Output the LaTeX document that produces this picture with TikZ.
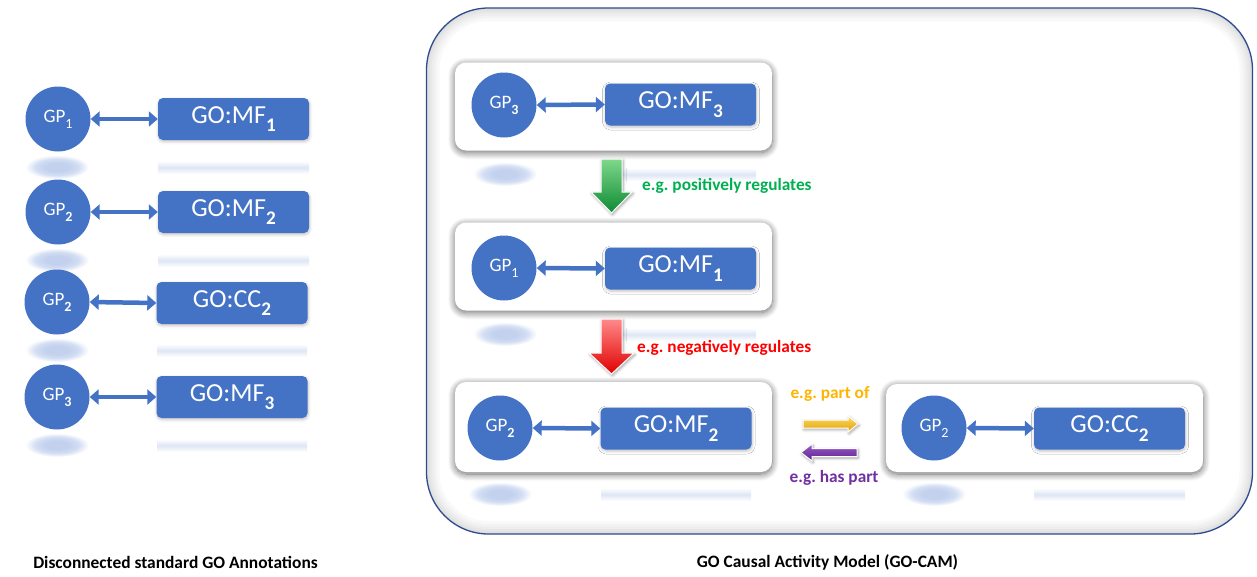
\documentclass[tikz,border=0pt]{standalone}
\usepackage{fontspec}
\usepackage{graphicx}
\setmainfont{Carlito}
\frenchspacing
\usetikzlibrary{arrows.meta,shadows.blur,fadings}
\definecolor{goblue}{HTML}{4472C4}
\definecolor{framecol}{HTML}{2F4B8F}
\definecolor{egreen}{HTML}{00B050}
\definecolor{ered}{HTML}{FF0000}
\definecolor{egold}{HTML}{FFB400}
\definecolor{epurple}{HTML}{7030A0}
\definecolor{grnA}{HTML}{7ED88A}
\definecolor{grnB}{HTML}{0E8A34}
\definecolor{redA}{HTML}{FF8A8A}
\definecolor{redB}{HTML}{E00000}
\definecolor{golA}{HTML}{FFD966}
\definecolor{golB}{HTML}{E0A000}
\definecolor{purA}{HTML}{9A5CC6}
\definecolor{purB}{HTML}{5E2090}
\definecolor{blobA}{HTML}{C3D1EE}
\definecolor{blobB}{HTML}{D3DEF3}
\pgfdeclareradialshading{reflblob}{\pgfpoint{0bp}{0bp}}{%
  color(0bp)=(blobA); color(9bp)=(blobA); color(17bp)=(blobB); color(25bp)=(white); color(50bp)=(white)}
\newcommand\gsub[1]{\raisebox{-0.32em}{\scalebox{0.74}{#1}}}
\newcommand\goreflect[4]{%
  \shade[shading=reflblob] (#1,#4) ellipse [x radius=32pt, y radius=12pt];
  \shade[top color=white, bottom color=white, middle color=goblue!18] (#2,#4-6) rectangle (#3,#4+7);
}
\begin{document}
\begin{tikzpicture}[x=1pt,y=-1pt,
  gp/.style={circle, fill=goblue, text=white, minimum size=65pt, inner sep=0pt,
    font=\fontsize{19}{19}\selectfont},
  gobox/.style={rectangle, rounded corners=5pt, fill=goblue, text=white,
    minimum width=151pt, minimum height=42pt, inner sep=0pt,
    font=\fontsize{26}{26}\selectfont,
    blur shadow={shadow blur radius=3pt, shadow xshift=0.5pt, shadow yshift=-1.5pt, shadow opacity=25}},
  biarrow/.style={draw=goblue, line width=4.5pt,
    {Triangle[length=9pt,width=15pt]}-{Triangle[length=9pt,width=15pt]}},
  panel/.style={rectangle, rounded corners=11pt, fill=white, minimum width=317pt,
    minimum height=88pt, inner sep=0pt,
    blur shadow={shadow blur radius=7pt, shadow xshift=0pt, shadow yshift=-2pt, shadow opacity=60, shadow blur steps=10}},
  blockarrow/.style={draw=white, line width=1pt,
    blur shadow={shadow blur radius=3pt, shadow xshift=1pt, shadow yshift=-1.5pt, shadow opacity=40}},
  lab/.style={font=\fontsize{17.3}{17}\selectfont\bfseries, inner sep=0pt},
  caption/.style={font=\fontsize{17.4}{17}\selectfont\bfseries, inner sep=0pt}
]
\useasboundingbox (0,0) rectangle (1257,576);

% ---------- left column ----------
\goreflect{57}{158}{309}{167}
\goreflect{57}{158}{309}{260}
\goreflect{57}{157}{307}{350}
\goreflect{57}{157}{307}{445}

\node[gp] (lc1) at (58,119) {GP\gsub{1}};
\node[gobox] (lb1) at (233.5,119) {GO:MF\gsub{\textbf{1}}};
\draw[biarrow] (lc1.east) -- (lb1.west);

\node[gp] (lc2) at (58,212) {GP\gsub{\textbf{2}}};
\node[gobox] (lb2) at (233.5,212) {GO:MF\gsub{\textbf{2}}};
\draw[biarrow] (lc2.east) -- (lb2.west);

\node[gp] (lc3) at (57,302) {GP\gsub{\textbf{2}}};
\node[gobox] (lb3) at (232,303) {GO:CC\gsub{\textbf{2}}};
\draw[biarrow] (lc3.east) -- (lb3.west);

\node[gp] (lc4) at (57,397) {GP\gsub{\textbf{3}}};
\node[gobox] (lb4) at (232,397) {GO:MF\gsub{\textbf{3}}};
\draw[biarrow] (lc4.east) -- (lb4.west);

\node[caption] (capL) at (175.5,562) {Disconnected standard GO Annotations};

% ---------- right frame ----------
\begin{scope}
  \clip[rounded corners=62pt] (426.5,8) rectangle (1252.5,534);
  \foreach \w in {26,20,15,10,6,3} {
    \draw[draw=black, draw opacity=0.022, line width=\w pt, rounded corners=62pt] (426.5,8) rectangle (1252.5,534);
  }
\end{scope}
\node[draw=framecol, line width=1.3pt, rounded corners=62pt, minimum width=826pt,
  minimum height=526pt, inner sep=0pt] (frame) at (839.5,271) {};

% reflections inside the frame
\goreflect{505}{605}{756}{174}
\goreflect{505}{605}{756}{334}
\goreflect{500}{601}{751}{494}
\goreflect{934}{1034}{1185}{494}

% panel 1
\node[panel] (P1) at (613.5,106.5) {};
\node[gp] (c1) at (504,105) {GP\gsub{\textbf{3}}};
\node[gobox] (b1) at (680.5,104.5) {GO:MF\gsub{\textbf{3}}};
\draw[biarrow] (c1.east) -- (b1.west);

% panel 2
\node[panel] (P2) at (613.5,266.5) {};
\node[gp] (c2) at (504,268) {GP\gsub{1}};
\node[gobox] (b2) at (680.5,268.5) {GO:MF\gsub{\textbf{1}}};
\draw[biarrow] (c2.east) -- (b2.west);

% panel 3
\node[panel, minimum height=90pt] (P3) at (613.5,427) {};
\node[gp] (c3) at (500,428) {GP\gsub{\textbf{2}}};
\node[gobox] (b3) at (676,428.5) {GO:MF\gsub{\textbf{2}}};
\draw[biarrow] (c3.east) -- (b3.west);

% panel 4
\node[panel, minimum height=88pt] (P4) at (1044.5,428) {};
\node[gp] (c4) at (934,428) {GP\gsub{2}};
\node[gobox] (b4) at (1109.5,428.5) {GO:CC\gsub{\textbf{2}}};
\draw[biarrow] (c4.east) -- (b4.west);

% block arrows
\shade[blockarrow, top color=grnA, bottom color=grnB]
  (601,159) -- (622,159) -- (622,192) -- (632,192) -- (611.5,213) -- (591,192) -- (601,192) -- cycle;
\node[lab, text=egreen, anchor=west] (posreg) at (642,186) {e.g. positively regulates};

\shade[blockarrow, top color=redA, bottom color=redB]
  (601,319) -- (622,319) -- (622,353) -- (634,353) -- (611.5,374) -- (589,353) -- (601,353) -- cycle;
\node[lab, text=ered, anchor=west] (negreg) at (637,348) {e.g. negatively regulates};

\node[lab, text=egold] (partof) at (830,394) {e.g. part of};
\shade[blockarrow, top color=golA, bottom color=golB]
  (803,420) -- (848,420) -- (848,416) -- (858,424) -- (848,432) -- (848,428) -- (803,428) -- cycle;

\shade[blockarrow, top color=purA, bottom color=purB]
  (857,448.5) -- (812,448.5) -- (812,444) -- (801,452.5) -- (812,461) -- (812,456.5) -- (857,456.5) -- cycle;
\node[lab, text=epurple] (haspart) at (834,478) {e.g. has part};

\node[caption] (capR) at (827.5,562) {GO Causal Activity Model (GO-CAM)};
\end{tikzpicture}
\end{document}
